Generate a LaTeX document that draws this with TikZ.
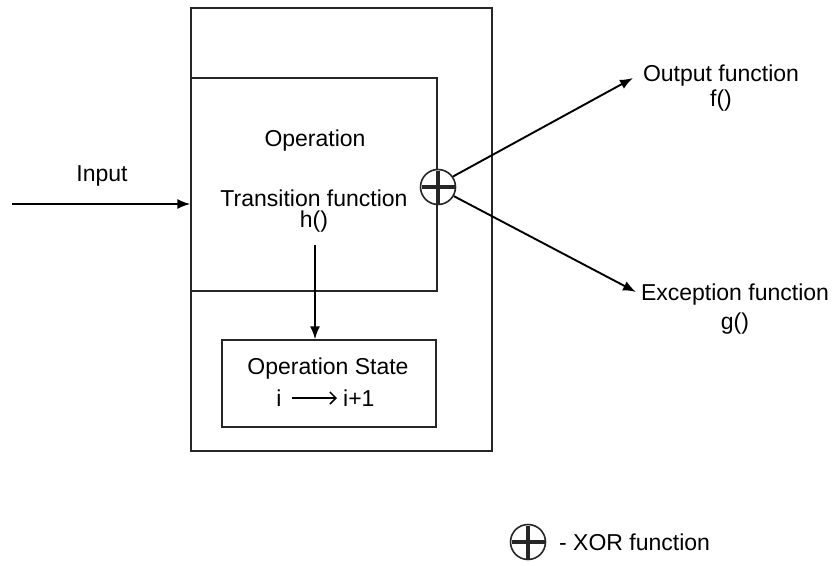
\documentclass[tikz,border=0pt]{standalone}
\usepackage{fontspec}
\setmainfont{Liberation Sans}
\usetikzlibrary{arrows.meta}
\begin{document}
\begin{tikzpicture}[x=1pt,y=-1pt,
  box/.style={draw=black!85,line width=1.3pt},
  arr/.style={line width=1.9pt,-{Latex[length=13pt,width=10pt]}},
  lbl/.style={font=\fontsize{23}{27}\selectfont,inner sep=0pt,align=center},
  xorc/.style={circle,draw=black!85,line width=1.6pt,fill=white,inner sep=0pt,minimum size=#1,
    path picture={\draw[line width=4.5pt] ([yshift=-1pt]path picture bounding box.north) -- ([yshift=1pt]path picture bounding box.south)
      ([xshift=1pt]path picture bounding box.west) -- ([xshift=-1pt]path picture bounding box.east);}}]
\useasboundingbox (0,0) rectangle (835,565);
\fill[white] (0,0) rectangle (835,565);
% boxes
\node[box,minimum width=301pt,minimum height=443pt,inner sep=0pt] (outer) at (341.5,229.5) {};
\node[box,minimum width=246pt,minimum height=213pt,inner sep=0pt] (op) at (314,184.5) {};
\node[box,minimum width=214pt,minimum height=87pt,inner sep=0pt] (state) at (329,383.5) {};
% texts
\node[lbl] (opt) at (315,141) {Operation};
\node[lbl] (trans) at (314,198) {Transition function};
\node[lbl] (h) at (314,222) {h()};
\node[lbl] (stt) at (328,369) {Operation State};
\node[lbl] (si) at (279,398) {i};
\node[lbl,anchor=west] (si1) at (343,398) {i+1};
\coordinate (sa) at (292,398);
\coordinate (sb) at (337,398);
\draw[line width=1.5pt,-{Straight Barb[length=6pt,width=12pt]}] (sa) -- (sb);
\node[lbl] (inp) at (102,176) {Input};
\node[lbl] (outf) at (721,76) {Output function};
\node[lbl] (outf2) at (721,101) {f()};
\node[lbl] (excf) at (735,295) {Exception function};
\node[lbl] (excf2) at (735,324) {g()};
% XOR
\node[xorc=35pt] (xor) at (438,187) {};
% arrows
\coordinate (inL) at (12,204);
\draw[arr] (inL) -- (op.west |- inL);
\coordinate (hB) at (315,245);
\draw[arr] (hB) -- (state.north -| hB);
\coordinate (oe) at (633,78);
\coordinate (ee) at (636,292);
\draw[arr] (xor.35) -- (oe);
\draw[arr] (xor.-30) -- (ee);
% legend
\node[xorc=35pt] (lx) at (528,542) {};
\node[lbl,anchor=west] (leg) at (559,542) {- XOR function};
\end{tikzpicture}
\end{document}
